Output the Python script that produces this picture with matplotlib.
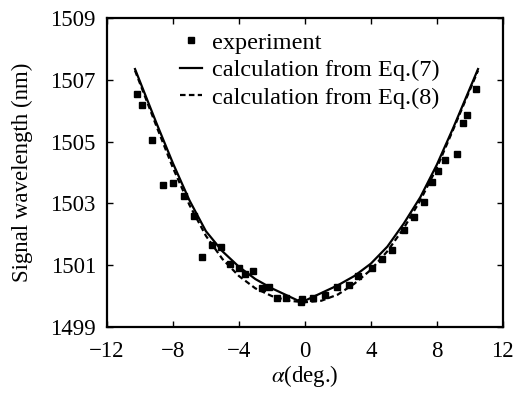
import matplotlib
matplotlib.use("Agg")
import matplotlib.pyplot as plt
import numpy as np

plt.rcParams['font.family'] = ['Liberation Serif', 'DejaVu Serif']
plt.rcParams['mathtext.fontset'] = 'stix'

# experiment points
expX = [-10.2, -9.9, -9.3, -8.6, -8.0, -7.3, -6.7, -6.25, -5.65, -5.1, -4.55, -4.0, -3.65,
        -3.15, -2.6, -2.2, -1.7, -1.15, -0.25, -0.2, 0.5, 1.25, 1.95, 2.65, 3.25, 4.05,
        4.65, 5.3, 6.0, 6.6, 7.25, 7.7, 8.1, 8.5, 9.2, 9.6, 9.85, 10.4]
expY = [1506.55, 1506.2, 1505.05, 1503.6, 1503.65, 1503.25, 1502.6, 1501.25, 1501.65, 1501.6,
        1501.05, 1500.9, 1500.7, 1500.8, 1500.25, 1500.3, 1499.95, 1499.95, 1499.8, 1499.9,
        1499.95, 1500.05, 1500.3, 1500.35, 1500.65, 1500.9, 1501.2, 1501.5, 1502.15, 1502.55,
        1503.05, 1503.7, 1504.05, 1504.4, 1504.6, 1505.6, 1505.85, 1506.7]

# calculation from Eq.(7)
eq7X = [-10.3, -9, -8, -7, -6, -5, -4, -3, -2, -1, -0.2, 1, 2, 3, 4, 5, 6, 7, 8, 9, 10.5]
eq7Y = [1507.35, 1505.6, 1504.3, 1503.1, 1502.1, 1501.45, 1500.95, 1500.55, 1500.25, 1500.0,
        1499.8, 1500.1, 1500.35, 1500.65, 1501.05, 1501.6, 1502.35, 1503.2, 1504.25, 1505.45,
        1507.35]

# calculation from Eq.(8)
eq8X = [-10.3, -9, -8, -7, -6, -5, -4, -3, -2, -1, 0, 1, 2, 3, 4, 5, 6, 7, 8, 9, 10.5]
eq8Y = [1507.3, 1505.5, 1504.15, 1502.95, 1501.95, 1501.2, 1500.65, 1500.25, 1500.0, 1499.85,
        1499.8, 1499.85, 1500.05, 1500.4, 1500.85, 1501.45, 1502.2, 1503.1, 1504.15, 1505.4,
        1507.3]

fig = plt.figure(figsize=(5.27, 3.93), dpi=100)
ax = fig.add_axes([0.203, 0.168, 0.751, 0.786])

ax.plot(expX, expY, 's', color='black', markersize=4, label='experiment')
ax.plot(eq7X, eq7Y, '-', color='black', lw=1.6, label='calculation from Eq.(7)')
ax.plot(eq8X, eq8Y, '--', color='black', lw=1.6, dashes=(2.5, 1.5), label='calculation from Eq.(8)')

ax.set_xlim(-12, 12)
ax.set_ylim(1499, 1509)
ax.set_xticks(np.arange(-12, 13, 4))
ax.set_xticklabels(['\u221212', '\u22128', '\u22124', '0', '4', '8', '12'])
ax.set_yticks(np.arange(1499, 1510, 2))
ax.tick_params(direction='in', top=True, right=True, length=4, width=1, labelsize=16.5)
ax.tick_params(axis='x', pad=10)
ax.tick_params(axis='y', pad=8)
for s in ax.spines.values():
    s.set_linewidth(1.6)

ax.set_xlabel('$\\alpha$(deg.)', fontsize=16.5, labelpad=1)
ax.set_ylabel('Signal wavelength (nm)', fontsize=16.5, labelpad=12)

ax.legend(loc='upper left', bbox_to_anchor=(0.185, 0.955), frameon=False, fontsize=17.5,
          handlelength=0.9, handletextpad=0.4, labelspacing=0.22, borderaxespad=0,
          borderpad=0, markerscale=1.0)

plt.savefig('out.png', dpi=100)
